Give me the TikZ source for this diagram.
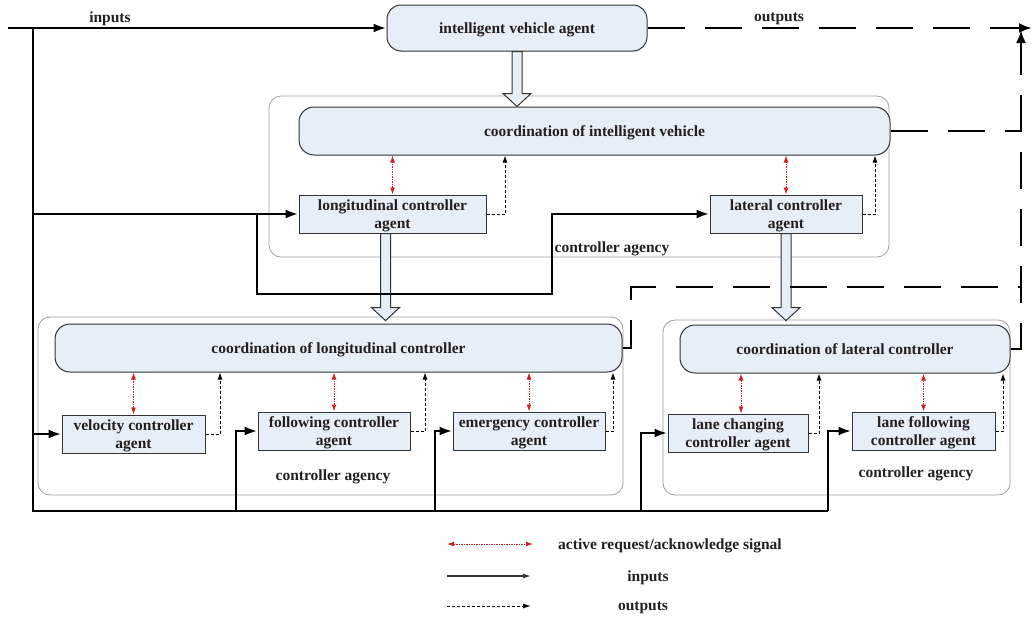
\documentclass[tikz,border=0pt]{standalone}
\usepackage{fontspec}
\setmainfont{Liberation Serif}
\usetikzlibrary{arrows.meta,calc}
\definecolor{boxfill}{HTML}{E6EEF7}
\definecolor{boxline}{HTML}{333333}
\definecolor{agline}{HTML}{A0A0A0}
\definecolor{sigred}{HTML}{D0202A}
\definecolor{txt}{HTML}{231F20}
\newcommand\blkarrow[2]{\draw[blk] let \p1=#1, \p2=#2 in
  (\x1-5pt,\y1) -- (\x1+5pt,\y1) -- (\x1+5pt,\y2+13pt) -- (\x1+14pt,\y2+13pt)
  -- (\x1,\y2) -- (\x1-14pt,\y2+13pt) -- (\x1-5pt,\y2+13pt) -- cycle;}
\begin{document}
\begin{tikzpicture}[x=1pt,y=-1pt,
 every node/.style={font=\fontsize{15.5}{17.5}\selectfont\bfseries, text=txt, text depth=0pt},
 rbox/.style={draw=boxline, fill=boxfill, rounded corners=14pt, line width=1pt, inner sep=0pt},
 sbox/.style={draw=boxline, fill=boxfill, line width=1pt, inner sep=0pt, align=center},
 agency/.style={draw=agline, rounded corners=12pt, line width=0.8pt, inner sep=0pt},
 inp/.style={line width=2.5pt, -{Latex[length=13pt,width=9pt]}},
 inpline/.style={line width=2.5pt},
 bigout/.style={line width=2.5pt, dash pattern=on 37pt off 20pt},
 outarr/.style={line width=0.9pt, dash pattern=on 3pt off 2pt, -{Latex[length=7pt,width=5pt]}},
 sig/.style={line width=0.9pt, draw=sigred, dash pattern=on 1.5pt off 1pt, {Latex[length=7pt,width=5pt]}-{Latex[length=7pt,width=5pt]}},
 blk/.style={draw=boxline, fill=boxfill, line width=1pt, line join=miter},
]
\useasboundingbox (0,0) rectangle (1032,616);

% agency frames
\node[agency, minimum width=620, minimum height=161] (agencyT) at (579,176.5) {};
\node[agency, minimum width=585, minimum height=178] (agencyL) at (330.5,406) {};
\node[agency, minimum width=347, minimum height=175] (agencyR) at (836.5,407.5) {};

% boxes
\node[rbox, minimum width=260, minimum height=46] (iva) at (517,28) {intelligent vehicle agent};
\node[rbox, rounded corners=15pt, minimum width=591, minimum height=48] (coordIV) at (594.5,131) {coordination of intelligent vehicle};
\node[sbox, minimum width=187, minimum height=38] (longA) at (392.5,214) {longitudinal controller\\agent};
\node[sbox, minimum width=152, minimum height=38] (latA) at (786,214) {lateral controller\\agent};

\node[rbox, rounded corners=15pt, minimum width=567, minimum height=48] (coordL) at (338.5,348) {coordination of longitudinal controller};
\node[sbox, minimum width=143, minimum height=38] (velA) at (133.5,434) {velocity controller\\agent};
\node[sbox, minimum width=152, minimum height=38] (folA) at (334,431) {following controller\\agent};
\node[sbox, minimum width=152, minimum height=38] (emA) at (529,431) {emergency controller\\agent};

\node[rbox, rounded corners=15pt, minimum width=330, minimum height=48] (coordLat) at (845,349) {coordination of lateral controller};
\node[sbox, minimum width=140, minimum height=38] (lcA) at (738,433) {lane changing\\controller agent};
\node[sbox, minimum width=143, minimum height=38] (lfA) at (923.5,431) {lane following\\controller agent};

% labels
\node (lab1) at (612,247) {controller agency};
\node (lab2) at (333,475) {controller agency};
\node (lab3) at (916,472) {controller agency};
\node (labin) at (110,17) {inputs};
\node (labout) at (779,17) {outputs};

% block arrows
\blkarrow{(iva.south)}{(coordIV.north)}
\blkarrow{($(longA.south)+(-7,0)$)}{($(agencyL.north)+(0,4)$)}
\blkarrow{(latA.south)}{($(agencyR.north)+(0,1)$)}

% inputs
\coordinate (in0) at (8,28);
\coordinate (tr) at (33,28);
\coordinate (bl) at (33,511);
\coordinate (b1) at (236,511);
\coordinate (b2) at (435,511);
\coordinate (b3) at (641,511);
\coordinate (b4) at (828,511);
\coordinate (j1) at (257,214);
\coordinate (j2) at (552,294);
\draw[inp] (in0) -- (iva.west);
\draw[inpline, line join=miter] (tr) -- (bl) -- (b4);
\draw[inp] (tr |- longA.west) -- (longA.west);
\draw[inp] (tr |- velA.west) -- (velA.west);
\draw[inp, line join=miter] (b1) |- (folA.west);
\draw[inp, line join=miter] (b2) |- (emA.west);
\draw[inp, line join=miter] (b3) |- (lcA.west);
\draw[inp, line join=miter] (b4) |- (lfA.west);
\draw[inp, line join=miter] (j1) |- (j2) |- (latA.west);

% big outputs
\coordinate (o1) at (1032,28);
\coordinate (vr) at (1021,349);
\coordinate (vt) at (1021,30);
\coordinate (c1) at (631,287);
\draw[bigout, -{Latex[length=13pt,width=10pt]}] (iva.east) -- (o1);
\draw[bigout, line join=miter, -{Latex[length=13pt,width=10pt]}] (coordLat.east) -- (vr) -- (vt);
\draw[bigout] (coordIV.east) -- (vr |- coordIV.east);
\draw[bigout, line join=miter] (coordL.east) -| (c1) -- (vr |- c1);

% small outputs
\coordinate (xv) at (220,0);
\coordinate (xf) at (425,0);
\coordinate (xe) at (613,0);
\coordinate (xlc) at (819,0);
\coordinate (xlf) at (1003,0);
\coordinate (xlo) at (505,0);
\coordinate (xla) at (875,0);
\draw[outarr] (velA.east) -| (xv |- coordL.south);
\draw[outarr] (folA.east) -| (xf |- coordL.south);
\draw[outarr] (emA.east) -| (xe |- coordL.south);
\draw[outarr] (lcA.east) -| (xlc |- coordLat.south);
\draw[outarr] (lfA.east) -| (xlf |- coordLat.south);
\draw[outarr] (longA.east) -| (xlo |- coordIV.south);
\draw[outarr] (latA.east) -| (xla |- coordIV.south);

% request/acknowledge signals
\draw[sig] (velA.north) -- (velA.north |- coordL.south);
\draw[sig] (folA.north) -- (folA.north |- coordL.south);
\draw[sig] (emA.north) -- (emA.north |- coordL.south);
\draw[sig] ($(lcA.north)+(3,0)$) -- ($(lcA.north |- coordLat.south)+(3,0)$);
\draw[sig] (lfA.north) -- (lfA.north |- coordLat.south);
\draw[sig] (longA.north) -- (longA.north |- coordIV.south);
\draw[sig] (latA.north) -- (latA.north |- coordIV.south);

% legend
\coordinate (la1) at (447,544); \coordinate (la2) at (533,544);
\coordinate (lb1) at (447,576); \coordinate (lb2) at (531,576);
\coordinate (lc1) at (447,606); \coordinate (lc2) at (531,606);
\draw[sig] (la1) -- (la2);
\draw[line width=1.2pt, draw=boxline, -{Latex[length=8pt,width=5pt]}] (lb1) -- (lb2);
\draw[line width=1pt, dash pattern=on 3pt off 2pt, -{Latex[length=8pt,width=5pt]}] (lc1) -- (lc2);
\node (lt1) at (670,544) {active request/acknowledge signal};
\node (lt2) at (648,576) {inputs};
\node (lt3) at (643,606) {outputs};
\end{tikzpicture}
\end{document}
